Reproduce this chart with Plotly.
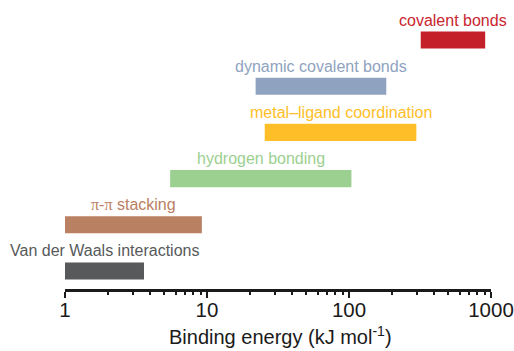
import math
import plotly.graph_objects as go

categories = ["Van der Waals interactions", "π-π stacking", "hydrogen bonding",
              "metal–ligand coordination", "dynamic covalent bonds", "covalent bonds"]
label_text = ["Van der Waals interactions",
              '<span style="font-family:Liberation Serif">π-π</span> stacking',
              "hydrogen bonding", "metal–ligand coordination",
              "dynamic covalent bonds", "covalent bonds"]
low_kj = [1.0, 1.0, 5.5, 25.5, 22.0, 320.0]
high_kj = [3.6, 9.2, 104.0, 298.0, 183.0, 910.0]
colors = ["#58595B", "#BA8062", "#9CD091", "#FEBE27", "#8FA3C0", "#C4202A"]
label_colors = ["#58595B", "#BA8062", "#9CD091", "#FEBE27", "#8FA3C0", "#C8262E"]
major_ticks = [1, 10, 100, 1000]
major_labels = ["1", "10", "100", "1000"]
minor_ticks = [2, 3, 4, 5, 6, 7, 8, 9, 20, 30, 40, 50, 60, 70, 80, 90,
               200, 300, 400, 500, 600, 700, 800, 900]
x_title = "Binding energy (kJ mol<sup>-1</sup>)"

ypos = list(range(len(categories)))
lengths = [h - l for h, l in zip(high_kj, low_kj)]

fig = go.Figure()
fig.add_trace(go.Bar(
    y=ypos, x=lengths, base=low_kj, orientation="h",
    marker=dict(color=colors, line=dict(width=0)),
    width=0.37, showlegend=False, hoverinfo="skip",
))

for i, (lo, hi) in enumerate(zip(low_kj, high_kj)):
    gm = math.sqrt(lo * hi)
    fig.add_annotation(
        x=math.log10(gm), y=ypos[i], xref="x", yref="y",
        text=label_text[i], showarrow=False, yanchor="middle", yshift=20,
        font=dict(family="Arial, Liberation Sans", size=16, color=label_colors[i]),
    )

fig.add_annotation(
    x=0.505, y=0, xref="paper", yref="paper", text=x_title, showarrow=False,
    xanchor="center", yanchor="middle", yshift=-46,
    font=dict(family="Arial, Liberation Sans", size=20, color="#1a1a1a"),
)

fig.update_layout(
    width=514, height=351,
    margin=dict(l=65, r=23, t=10, b=62, autoexpand=False),
    plot_bgcolor="white", paper_bgcolor="white",
    font=dict(family="Arial, Liberation Sans", color="#1a1a1a"),
    xaxis=dict(
        type="log", range=[0, 3], automargin=False,
        tickmode="array", tickvals=major_ticks, ticktext=major_labels,
        ticks="outside", ticklen=6, tickwidth=2, tickcolor="#1a1a1a",
        ticklabelstandoff=-5,
        showline=True, linewidth=2.5, linecolor="#1a1a1a",
        showgrid=False, zeroline=False,
        tickfont=dict(size=20.5, color="#1a1a1a"),
        minor=dict(tickmode="array", tickvals=minor_ticks, ticks="outside",
                   ticklen=3, tickwidth=2, tickcolor="#1a1a1a", showgrid=False),
    ),
    yaxis=dict(range=[-0.39, 5.65], visible=False, fixedrange=True),
)

fig.write_html("out.html", config={"displayModeBar": False},
               post_script="document.body.style.margin='0';document.body.style.overflow='hidden';")
